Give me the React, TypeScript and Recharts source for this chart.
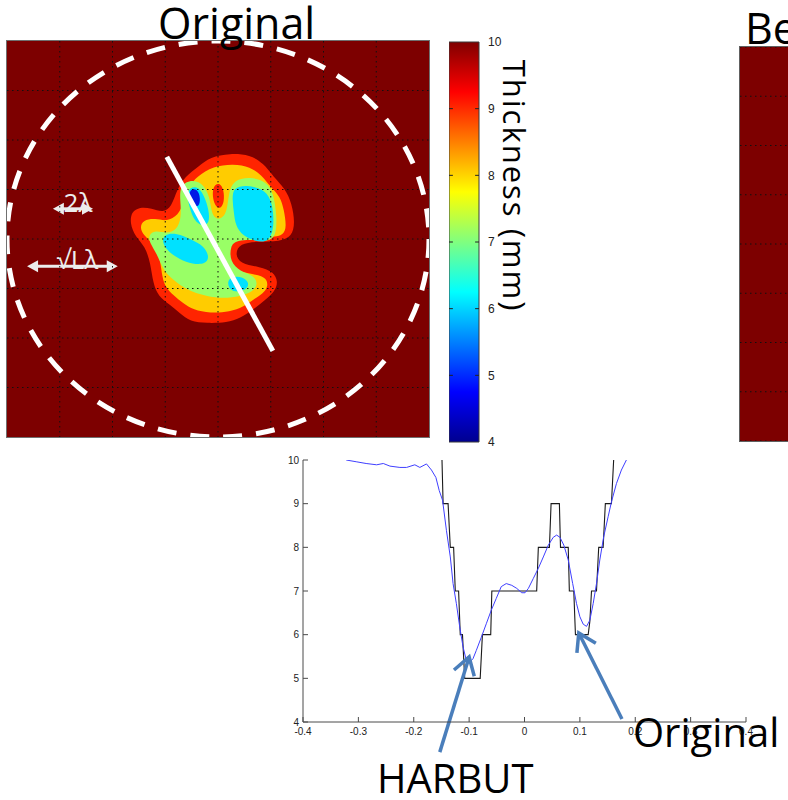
import React from 'react';
import {
  ComposedChart, Line, Scatter, XAxis, YAxis, CartesianGrid,
  ReferenceLine, ReferenceDot, ReferenceArea,
} from 'recharts';

// ---- thickness map (8 x 8 grid cells, rows counted from the top) ----
const HEAT_W = 422;
const HEAT_H = 396;
const HEAT_CELLS = 8;
const GRID_TICKS = [0, 1, 2, 3, 4, 5, 6, 7, 8];
const INNER_GRID = [1, 2, 3, 4, 5, 6, 7];

type Pt = [number, number];

// contour outlines [col, row]
const RIM_9: Pt[] = [
  [3.63, 2.54], [3.85, 2.34], [4.23, 2.27], [4.61, 2.30], [4.86, 2.47], [5.05, 2.74],
  [5.27, 2.98], [5.40, 3.28], [5.46, 3.68], [5.40, 3.95], [5.18, 4.05], [4.73, 4.05],
  [4.42, 4.09], [4.32, 4.29], [4.42, 4.51], [4.80, 4.56], [5.05, 4.66], [5.14, 4.86],
  [5.08, 5.06], [4.89, 5.23], [4.67, 5.43], [4.42, 5.60], [4.17, 5.69], [3.79, 5.70],
  [3.47, 5.67], [3.28, 5.50], [3.09, 5.33], [2.87, 5.16], [2.77, 4.90], [2.72, 4.49],
  [2.62, 4.15], [2.43, 3.95], [2.33, 3.68], [2.36, 3.45], [2.52, 3.35], [2.74, 3.38],
  [2.96, 3.47], [3.12, 3.35], [3.22, 3.01], [3.37, 2.74],
];
const RIM_8: Pt[] = [
  [3.60, 2.74], [3.91, 2.53], [4.29, 2.48], [4.61, 2.54], [4.83, 2.71], [4.99, 2.94],
  [5.18, 3.14], [5.25, 3.41], [5.30, 3.75], [5.24, 3.92], [5.05, 3.97], [4.61, 3.92],
  [4.23, 4.02], [4.17, 4.32], [4.29, 4.66], [4.73, 4.71], [4.92, 4.79], [4.95, 4.96],
  [4.86, 5.10], [4.67, 5.22], [4.48, 5.37], [4.23, 5.47], [3.85, 5.50], [3.53, 5.43],
  [3.34, 5.30], [3.15, 5.13], [2.99, 4.96], [2.93, 4.69], [2.90, 4.36], [2.77, 4.09],
  [2.58, 3.92], [2.52, 3.76], [2.58, 3.62], [2.81, 3.58], [3.03, 3.65], [3.25, 3.52],
  [3.34, 3.28], [3.44, 2.94],
];
const RIM_7: Pt[] = [
  [3.28, 2.94], [3.44, 2.81], [3.69, 2.84], [3.85, 3.14], [3.88, 3.55], [4.04, 3.62],
  [4.17, 3.48], [4.20, 3.08], [4.29, 2.81], [4.61, 2.74], [4.92, 2.84], [5.05, 3.08],
  [5.11, 3.48], [5.11, 3.89], [4.99, 4.05], [4.73, 4.02], [4.35, 4.02], [4.23, 4.15],
  [4.23, 4.46], [4.42, 4.66], [4.67, 4.73], [4.76, 4.90], [4.67, 5.06], [4.42, 5.16],
  [4.10, 5.20], [3.79, 5.16], [3.41, 5.03], [3.15, 4.83], [2.96, 4.63], [2.84, 4.29],
  [2.71, 4.09], [2.68, 3.92], [2.81, 3.82], [3.03, 3.89], [3.22, 3.82], [3.31, 3.55],
  [3.28, 3.21],
];
const POOL_EAST: Pt[] = [
  [4.29, 2.96], [4.54, 2.91], [4.85, 2.98], [5.01, 3.19], [5.06, 3.55], [5.04, 3.91],
  [4.90, 4.07], [4.70, 4.04], [4.47, 3.94], [4.33, 3.73], [4.30, 3.45], [4.27, 3.20],
];
const POOL_NORTH: Pt[] = [
  [3.40, 2.99], [3.60, 2.92], [3.73, 3.10], [3.83, 3.41], [3.84, 3.70], [3.69, 3.74],
  [3.55, 3.63], [3.45, 3.35],
];
const POOL_WEST: Pt[] = [
  [2.97, 3.90], [3.22, 3.88], [3.48, 4.00], [3.74, 4.14], [3.84, 4.37], [3.76, 4.51],
  [3.52, 4.51], [3.27, 4.41], [3.07, 4.27], [2.94, 4.09],
];
const POOL_SOUTH: Pt[] = [
  [4.16, 4.82], [4.35, 4.74], [4.55, 4.81], [4.60, 4.97], [4.42, 5.08], [4.22, 5.05],
];
const DEEP_SPOT: Pt[] = [
  [3.46, 3.00], [3.61, 2.98], [3.67, 3.18], [3.64, 3.36], [3.52, 3.32], [3.46, 3.14],
];
const RIDGE_SPOT: Pt[] = [
  [3.94, 2.90], [4.04, 2.87], [4.11, 3.01], [4.12, 3.25], [4.05, 3.39], [3.96, 3.36],
  [3.90, 3.18], [3.90, 3.01],
];

// profile cut and the scale circle
const CUT_LINE: Pt[] = [[3.03, 2.34], [5.04, 6.26]];
const CIRCLE_CENTER: Pt = [4, 4];
const CIRCLE_R = 4;

// length markers on the map
const MARKER_LABELS = ['2λ', '√Lλ'];
const MARKER_X0 = [0.87, 0.38];
const MARKER_X1 = [1.63, 2.10];
const MARKER_ROW = [3.39, 4.55];

// ---- colour bar ----
const BAR_TICKS = [4, 5, 6, 7, 8, 9, 10];
const BAR_INNER_TICKS = [5, 6, 7, 8, 9];

// ---- thickness profile along the cut ----
const PROFILE_X_TICKS = [-0.4, -0.3, -0.2, -0.1, 0, 0.1, 0.2, 0.3, 0.4];
const PROFILE_Y_TICKS = [4, 5, 6, 7, 8, 9, 10];

const STEP_X = [
  -0.149, -0.147, -0.138, -0.134, -0.128, -0.125, -0.119, -0.116, -0.112, -0.108, -0.080,
  -0.076, -0.061, -0.059, 0.022, 0.025, 0.045, 0.048, 0.063, 0.065, 0.079, 0.081, 0.089,
  0.092, 0.115, 0.118, 0.121, 0.130, 0.134, 0.142, 0.146, 0.157, 0.161,
];
const STEP_Y = [
  10, 9, 9, 8, 8, 7, 7, 6, 6, 5, 5,
  6, 6, 7, 7, 8, 8, 9, 9, 8, 8, 7, 7,
  6, 6, 6.3, 7, 7, 8, 8, 9, 9, 10,
];

const HARBUT_X = [
  -0.322, -0.304, -0.286, -0.267, -0.255, -0.243, -0.225, -0.213, -0.198, -0.189, -0.177,
  -0.168, -0.160, -0.154, -0.148, -0.141, -0.134, -0.129, -0.123, -0.117, -0.111, -0.105,
  -0.099, -0.093, -0.087, -0.078, -0.069, -0.060, -0.051, -0.042, -0.033, -0.023, -0.014,
  -0.005, 0.001, 0.007, 0.016, 0.025, 0.034, 0.043, 0.052, 0.058, 0.064, 0.071, 0.079,
  0.087, 0.094, 0.100, 0.106, 0.112, 0.118, 0.124, 0.130, 0.136, 0.143, 0.151, 0.157,
  0.166, 0.175, 0.184,
];
const HARBUT_Y = [
  10.0, 9.96, 9.92, 9.89, 9.92, 9.86, 9.83, 9.83, 9.89, 9.83, 9.91,
  9.77, 9.60, 9.30, 9.08, 8.39, 7.78, 7.17, 6.71, 6.18, 5.72, 5.41,
  5.37, 5.45, 5.64, 5.94, 6.25, 6.56, 6.83, 7.10, 7.17, 7.13, 7.06,
  6.96, 6.96, 7.06, 7.29, 7.52, 7.78, 8.05, 8.23, 8.28, 8.23, 8.05, 7.71,
  7.17, 6.71, 6.41, 6.24, 6.19, 6.33, 6.71, 7.17, 7.71, 8.24, 8.70, 9.04,
  9.46, 9.77, 10.0,
];

// callouts: tail -> tip
const CALLOUT_TAIL: Pt[] = [[-0.153, 3.31], [0.176, 4.07]];
const CALLOUT_TIP: Pt[] = [[-0.100, 5.49], [0.098, 6.04]];

const toXY = (pts: Pt[]) => pts.map(([x, y]) => ({ x, y }));
const zip = (xs: number[], ys: number[]) => xs.map((x, i) => ({ x, y: ys[i] }));

const DARK_RED = '#7d0000';
const TEXT_FONT = '"Open Sans", sans-serif';
const TICK_FONT = '"Liberation Sans", Arial, sans-serif';

const NoDot = () => <g />;

const HeatMarker = (p: any) => {
  const { x1, y1, x2, y2, text } = p;
  const head = 11;
  const half = 6;
  const c = '#ececec';
  return (
    <g>
      <line x1={x1 + head - 1} y1={y1} x2={x2 - head + 1} y2={y2} stroke={c} strokeWidth={3} />
      <polygon points={`${x1},${y1} ${x1 + head},${y1 - half} ${x1 + head},${y1 + half}`} fill={c} />
      <polygon points={`${x2},${y2} ${x2 - head},${y2 - half} ${x2 - head},${y2 + half}`} fill={c} />
      <text x={(x1 + x2) / 2 + 5} y={y1 + 3} textAnchor="middle" fontFamily={TEXT_FONT}
        fontSize={26} fill={c}>{text}</text>
    </g>
  );
};

const Callout = (p: any) => {
  const { x1, y1, x2, y2 } = p;
  const dx = x1 - x2;
  const dy = y1 - y2;
  const len = Math.hypot(dx, dy);
  const ux = dx / len;
  const uy = dy / len;
  const a = (32 * Math.PI) / 180;
  const barb = 20;
  const b1x = x2 + barb * (ux * Math.cos(a) - uy * Math.sin(a));
  const b1y = y2 + barb * (ux * Math.sin(a) + uy * Math.cos(a));
  const b2x = x2 + barb * (ux * Math.cos(-a) - uy * Math.sin(-a));
  const b2y = y2 + barb * (ux * Math.sin(-a) + uy * Math.cos(-a));
  const c = '#4a7ebb';
  return (
    <g stroke={c} strokeWidth={3.5} strokeLinecap="butt" fill="none">
      <line x1={x1} y1={y1} x2={x2} y2={y2} />
      <polyline points={`${b1x},${b1y} ${x2},${y2} ${b2x},${b2y}`} />
    </g>
  );
};

function ThicknessMap() {
  const layers: [Pt[], string][] = [
    [RIM_9, '#ff2400'],
    [RIM_8, '#ffcc00'],
    [RIM_7, '#99ff66'],
    [POOL_EAST, '#00e1ff'],
    [POOL_NORTH, '#00e1ff'],
    [POOL_WEST, '#00e1ff'],
    [POOL_SOUTH, '#00e1ff'],
    [DEEP_SPOT, '#0019e6'],
    [RIDGE_SPOT, '#ff2400'],
  ];
  // dotted grid drawn over the contours
  const gridLines: Pt[][] = [
    ...INNER_GRID.map((t): Pt[] => [[t, 0], [t, HEAT_CELLS]]),
    ...INNER_GRID.map((t): Pt[] => [[0, t], [HEAT_CELLS, t]]),
  ];
  return (
    <ComposedChart width={HEAT_W} height={HEAT_H} margin={{ top: 0, right: 0, bottom: 0, left: 0 }}>
      <XAxis type="number" dataKey="x" domain={[0, HEAT_CELLS]} ticks={GRID_TICKS} hide allowDataOverflow />
      <YAxis type="number" dataKey="y" domain={[0, HEAT_CELLS]} ticks={GRID_TICKS} hide reversed allowDataOverflow />
      {layers.map(([pts, color], i) => (
        <Scatter key={i} data={toXY(pts)} dataKey="y" fill={color}
          line={{ fill: color, stroke: 'none' }} lineType="joint" lineJointType="basisClosed"
          shape={NoDot} isAnimationActive={false} />
      ))}
      {gridLines.map((seg, i) => (
        <Scatter key={`g${i}`} data={toXY(seg)} dataKey="y" fill="#111"
          line={{ stroke: '#111', strokeWidth: 1, strokeDasharray: '1.5 3.5' }}
          lineType="joint" lineJointType="linear" shape={NoDot} isAnimationActive={false} />
      ))}
      <Scatter data={toXY(CUT_LINE)} dataKey="y" fill="#fff"
        line={{ stroke: '#fff', strokeWidth: 5 }} lineType="joint" lineJointType="linear"
        shape={NoDot} isAnimationActive={false} />
      <ReferenceDot x={CIRCLE_CENTER[0]} y={CIRCLE_CENTER[1]} ifOverflow="hidden"
        shape={(p: any) => (
          <ellipse cx={p.cx} cy={p.cy} rx={(CIRCLE_R * HEAT_W) / HEAT_CELLS}
            ry={(CIRCLE_R * HEAT_H) / HEAT_CELLS} fill="none" stroke="#fff"
            strokeWidth={5} strokeDasharray="19 14" />
        )} />
      {MARKER_LABELS.map((label, i) => (
        <ReferenceLine key={label}
          segment={[{ x: MARKER_X0[i], y: MARKER_ROW[i] }, { x: MARKER_X1[i], y: MARKER_ROW[i] }]}
          shape={(p: any) => <HeatMarker {...p} text={label} />} />
      ))}
    </ComposedChart>
  );
}

function ColourBar() {
  return (
    <ComposedChart width={60} height={416} margin={{ top: 8, right: 0, bottom: 8, left: 0 }}>
      <defs>
        <linearGradient id="jetScale" x1="0" y1="0" x2="0" y2="1">
          <stop offset="0" stopColor="#800000" />
          <stop offset="0.125" stopColor="#ff0000" />
          <stop offset="0.375" stopColor="#ffff00" />
          <stop offset="0.625" stopColor="#00ffff" />
          <stop offset="0.875" stopColor="#0000ff" />
          <stop offset="1" stopColor="#00008f" />
        </linearGradient>
      </defs>
      <XAxis type="number" dataKey="x" domain={[0, 1]} hide allowDataOverflow />
      <YAxis type="number" orientation="right" domain={[4, 10]} ticks={BAR_TICKS} width={30}
        allowDataOverflow axisLine={false} tickLine={false} tickMargin={3}
        tick={{ fontSize: 12, fill: '#222', fontFamily: TICK_FONT }} />
      <ReferenceArea x1={0} x2={1} y1={4} y2={10} fill="url(#jetScale)" fillOpacity={1}
        stroke="#3a3a3a" strokeWidth={1} ifOverflow="visible" />
      {BAR_INNER_TICKS.map((t) => (
        <ReferenceLine key={`l${t}`} segment={[{ x: 0, y: t }, { x: 0.13, y: t }]} stroke="#222" />
      ))}
      {BAR_INNER_TICKS.map((t) => (
        <ReferenceLine key={`r${t}`} segment={[{ x: 0.87, y: t }, { x: 1, y: t }]} stroke="#222" />
      ))}
    </ComposedChart>
  );
}

function SecondPanel() {
  return (
    <ComposedChart width={60} height={394} margin={{ top: 0, right: 0, bottom: 0, left: 0 }}>
      <XAxis type="number" dataKey="x" domain={[0, HEAT_CELLS]} ticks={GRID_TICKS} hide allowDataOverflow />
      <YAxis type="number" dataKey="y" domain={[0, HEAT_CELLS]} ticks={GRID_TICKS} hide allowDataOverflow />
      <CartesianGrid vertical={false} stroke="#111" strokeDasharray="1.5 3.5" />
    </ComposedChart>
  );
}

function Profile() {
  const stepData = zip(STEP_X, STEP_Y);
  const harbutData = zip(HARBUT_X, HARBUT_Y);
  const axisColor = '#4a4a4a';
  const tickStyle = { fontSize: 10, fill: '#222', fontFamily: TICK_FONT };
  return (
    <ComposedChart width={493} height={350} margin={{ top: 10, right: 10, bottom: 50, left: 0 }}>
      <XAxis type="number" dataKey="x" domain={[-0.4, 0.4]} ticks={PROFILE_X_TICKS}
        allowDataOverflow height={28} tickSize={-5} tickMargin={11}
        tickFormatter={(v: number) => String(v)}
        stroke={axisColor} tick={tickStyle} />
      <XAxis xAxisId="top" orientation="top" type="number" domain={[-0.4, 0.4]}
        ticks={PROFILE_X_TICKS} allowDataOverflow height={0} tickSize={-5} tick={false}
        stroke={axisColor} />
      <YAxis type="number" domain={[4, 10]} ticks={PROFILE_Y_TICKS} allowDataOverflow
        width={40} tickSize={-5} tickMargin={9} stroke={axisColor} tick={tickStyle} />
      <YAxis yAxisId="right" orientation="right" type="number" domain={[4, 10]}
        ticks={PROFILE_Y_TICKS} allowDataOverflow width={0} tickSize={-5} tick={false}
        stroke={axisColor} />
      <Line data={stepData} dataKey="y" type="linear" stroke="#1a1a1a" strokeWidth={1.1}
        dot={false} isAnimationActive={false} />
      <Line data={harbutData} dataKey="y" type="linear" stroke="#3f3fff" strokeWidth={1}
        dot={false} isAnimationActive={false} />
      {CALLOUT_TIP.map((tip, i) => (
        <ReferenceLine key={i} ifOverflow="visible"
          segment={[{ x: CALLOUT_TAIL[i][0], y: CALLOUT_TAIL[i][1] }, { x: tip[0], y: tip[1] }]}
          shape={(p: any) => <Callout {...p} />} />
      ))}
    </ComposedChart>
  );
}

export default function App() {
  return (
    <div style={{ position: 'absolute', left: 0, top: 0, width: 788, height: 800, overflow: 'hidden', background: '#fff' }}>
      <div style={{ position: 'absolute', left: 6, top: 40, width: HEAT_W, height: HEAT_H, border: '1px solid #707070', background: DARK_RED }}>
        <ThicknessMap />
      </div>
      <div style={{ position: 'absolute', left: 449, top: 34 }}>
        <ColourBar />
      </div>
      <div style={{ position: 'absolute', left: 739, top: 46, width: 60, height: 394, border: '1px solid #606060', background: DARK_RED }}>
        <SecondPanel />
      </div>
      <div style={{ position: 'absolute', left: 263, top: 450 }}>
        <Profile />
      </div>
      <svg width={788} height={800} style={{ position: 'absolute', left: 0, top: 0, pointerEvents: 'none' }}>
        <g fontFamily={TEXT_FONT} fill="#000">
          <text x={158} y={39} fontSize={43}>Original</text>
          <text x={745} y={44} fontSize={43}>Be</text>
          <text transform="translate(503, 186) rotate(90)" textAnchor="middle" fontSize={31}
            letterSpacing={2}>Thickness (mm)</text>
          <text x={377} y={793} fontSize={40}>HARBUT</text>
          <text x={633} y={747} fontSize={40}>Original</text>
        </g>
      </svg>
    </div>
  );
}
